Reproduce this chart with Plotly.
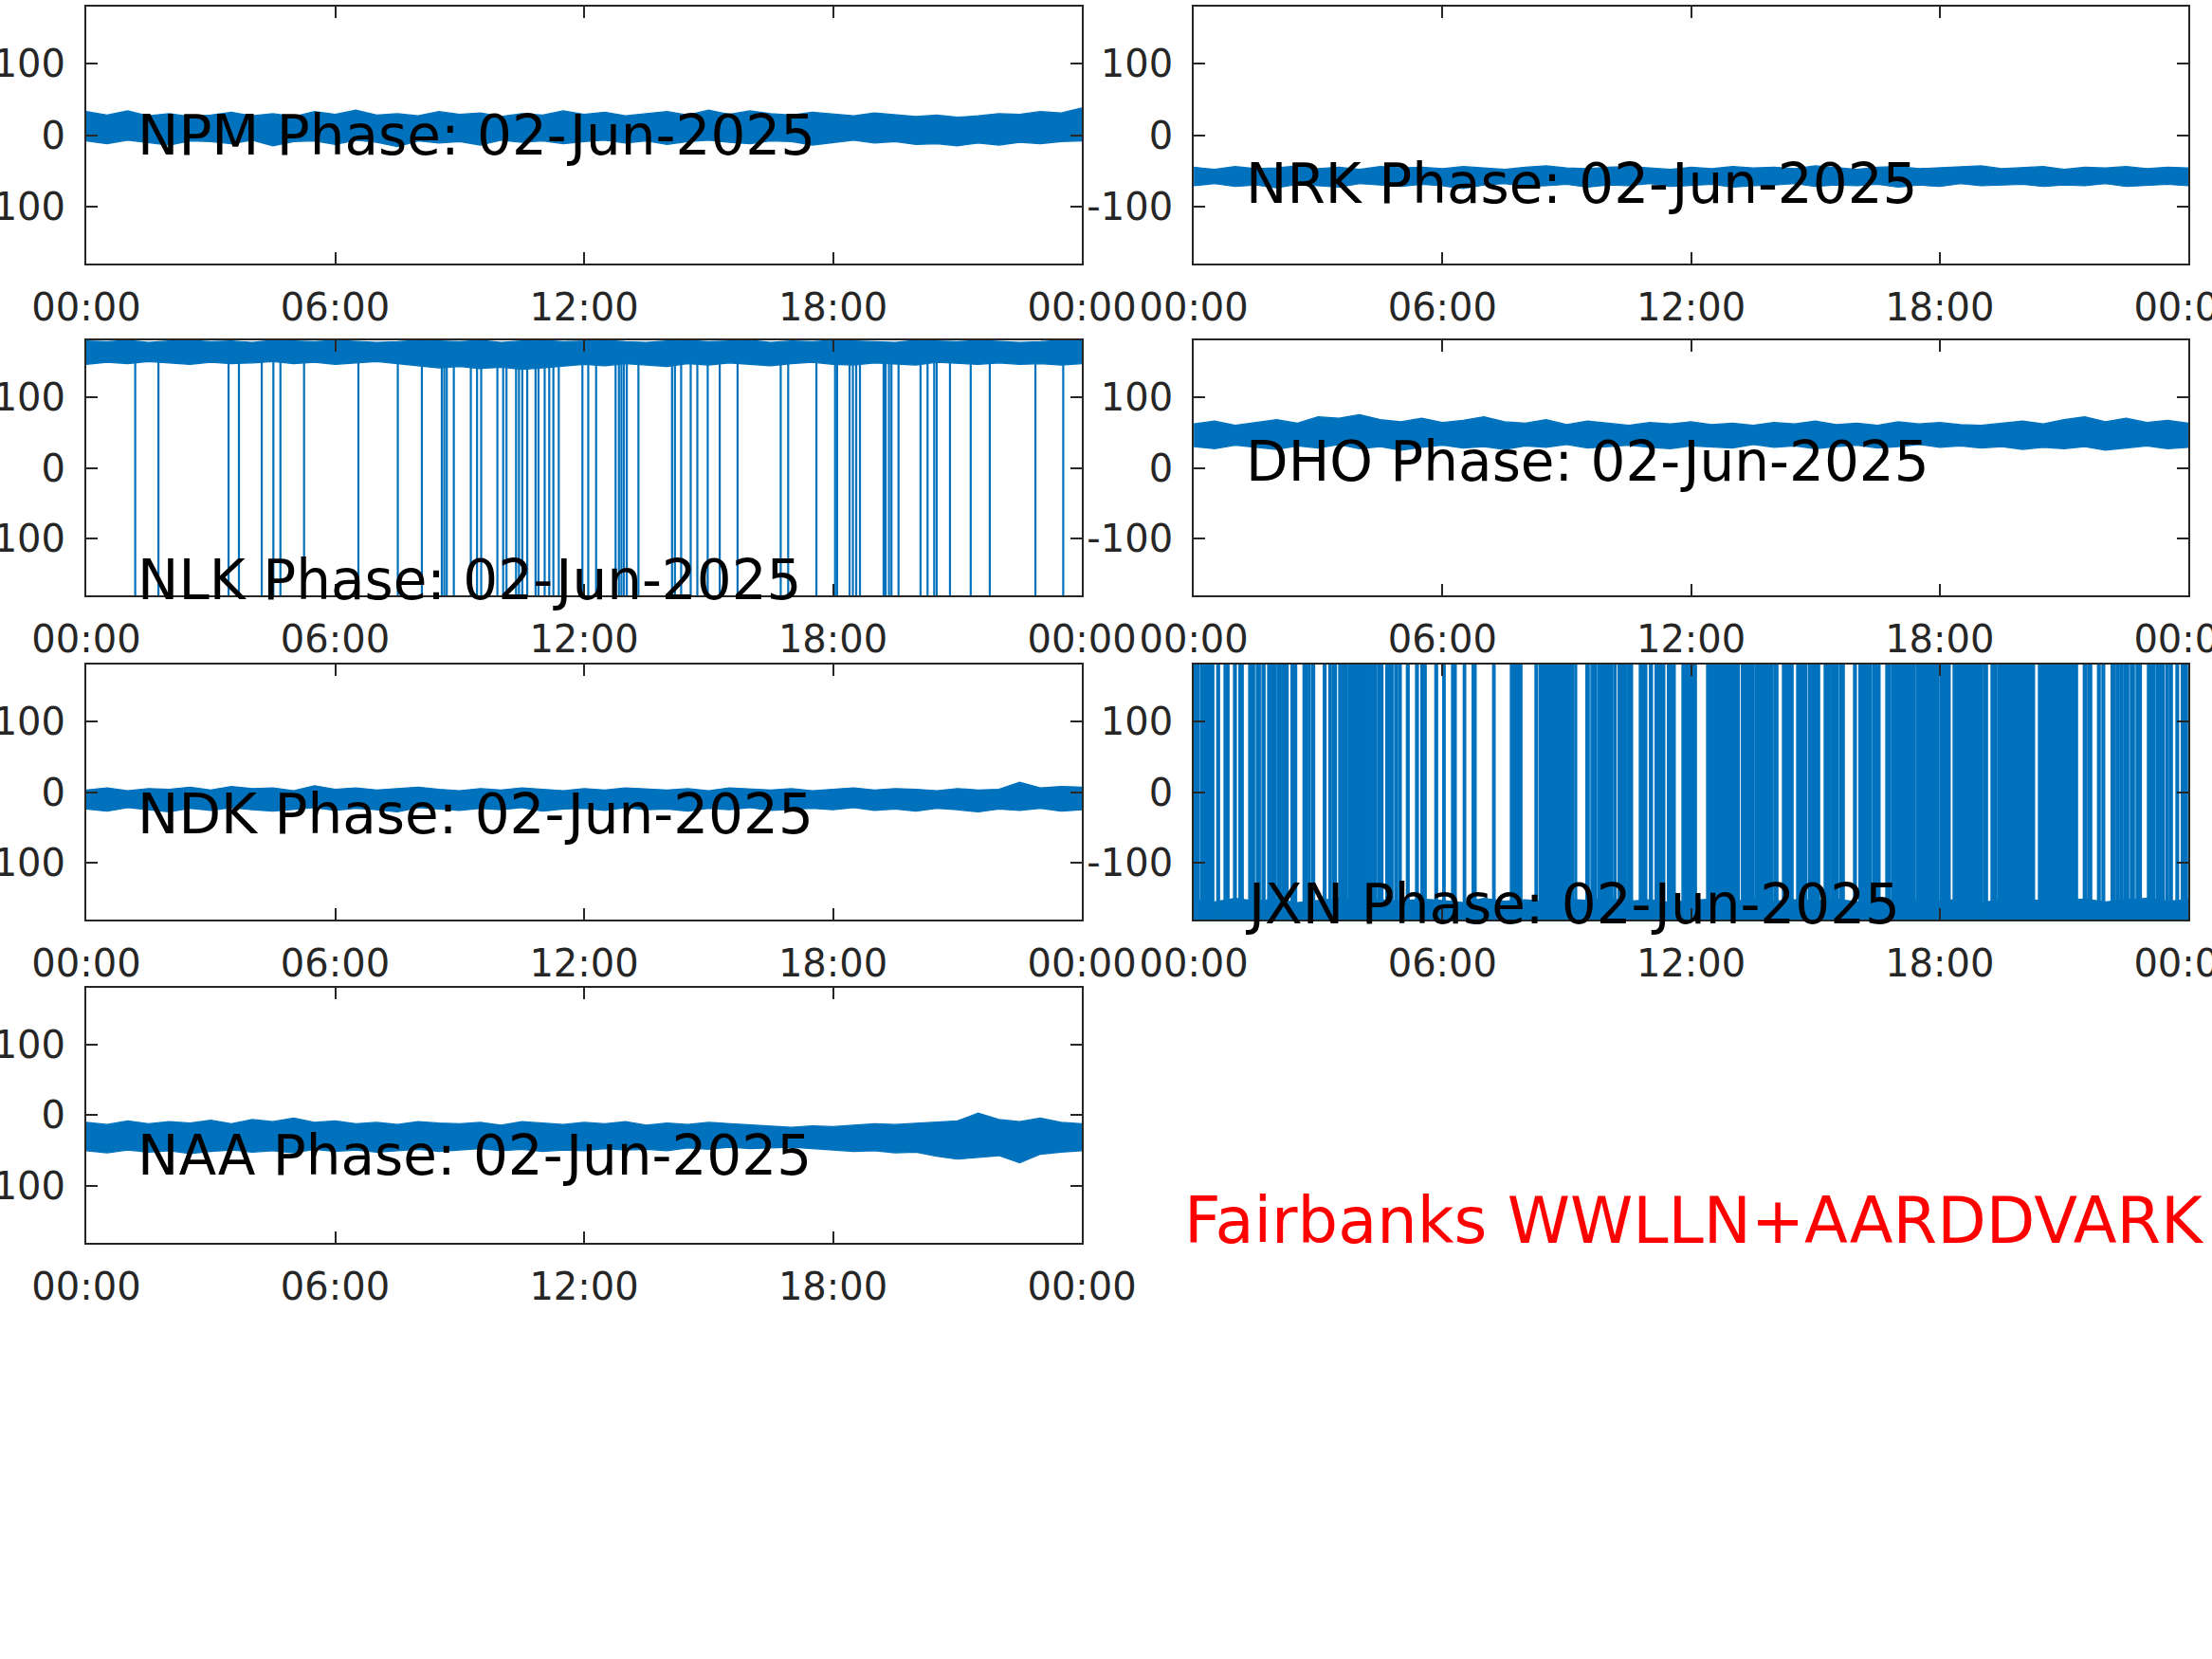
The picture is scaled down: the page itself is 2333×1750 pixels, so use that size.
import plotly.graph_objects as go

BLUE = "#0072BD"
AX = "#262626"

# Time grid (hours) for the band envelopes (every half hour)
hours = [i * 0.5 for i in range(49)]

npm_hi = [33,28,34,27,30,26,28,32,27,30,26,33,29,35,28,30,27,33,29,31,26,30,28,34,29,32,27,30,33,28,35,29,34,30,28,32,30,27,31,29,26,28,25,27,30,29,33,31,38]
npm_lo = [-8,-12,-7,-10,-14,-8,-9,-12,-7,-15,-9,-8,-13,-7,-10,-16,-8,-11,-9,-14,-7,-10,-8,-12,-9,-7,-11,-8,-13,-9,-7,-10,-12,-8,-9,-14,-10,-7,-11,-9,-13,-12,-15,-11,-14,-10,-12,-9,-8]

nrk_hi = [-45,-48,-44,-47,-46,-43,-47,-45,-48,-44,-46,-45,-47,-44,-46,-48,-45,-43,-46,-47,-45,-44,-46,-48,-45,-47,-44,-46,-45,-47,-43,-46,-48,-45,-44,-47,-46,-45,-43,-47,-46,-44,-48,-45,-46,-44,-47,-45,-46]
nrk_lo = [-71,-68,-72,-70,-74,-69,-71,-73,-68,-70,-72,-69,-71,-75,-70,-68,-72,-71,-69,-73,-70,-71,-68,-72,-70,-69,-73,-71,-70,-68,-72,-70,-71,-69,-73,-70,-72,-68,-71,-70,-69,-72,-70,-71,-68,-72,-70,-69,-71]

nlk_hi = [179,178,180,177,179,180,178,179,177,180,179,178,180,179,177,178,180,179,178,180,177,179,180,178,179,180,178,177,179,180,178,179,180,177,179,178,180,179,178,177,180,179,178,180,179,177,178,180,179]
nlk_lo = [146,149,147,150,148,146,149,147,148,150,147,149,146,148,150,147,
          144,141,143,140,142,139,141,143,
          146,144,147,145,143,147,145,148,146,144,147,149,146,145,148,147,145,149,147,146,148,146,147,145,147]
# NLK phase-wrap times (hours)
nlk_wraps = [1.18,1.74,3.43,3.68,4.23,4.51,4.68,5.25,6.56,7.51,8.09,8.57,8.63,8.69,8.86,9.27,9.42,9.52,
             9.91,10.05,10.13,10.36,10.43,10.51,10.63,10.83,10.90,11.05,11.16,11.26,11.39,
             11.96,12.10,12.29,12.76,12.84,12.90,12.96,13.03,13.31,14.12,14.19,14.34,14.57,14.73,14.98,
             15.27,15.70,16.74,16.92,17.60,18.05,18.10,18.40,18.48,18.56,18.65,19.22,19.27,19.35,19.41,
             19.58,20.11,20.28,20.44,20.50,20.82,21.32,21.78,22.88,23.55]

dho_hi = [62,66,60,64,68,63,72,70,75,68,65,70,64,67,72,65,63,68,61,66,63,60,64,62,65,61,63,60,64,62,66,61,63,60,65,62,64,61,60,63,66,62,68,72,65,70,64,67,63]
dho_lo = [30,27,32,29,26,31,28,33,27,30,25,29,32,28,30,26,31,29,33,28,30,32,29,27,31,30,28,33,29,31,27,30,32,28,30,33,29,31,28,30,26,29,27,30,25,28,31,27,29]

ndk_hi = [3,6,2,5,4,7,3,8,5,6,2,9,4,6,3,5,7,4,2,5,3,6,4,2,5,3,6,4,3,5,2,6,4,3,5,2,4,6,3,5,4,2,5,3,4,14,6,8,7]
ndk_lo = [-24,-27,-22,-25,-28,-23,-26,-22,-25,-27,-24,-22,-26,-23,-25,-28,-22,-24,-26,-23,-25,-22,-27,-24,-23,-26,-22,-25,-24,-27,-23,-25,-22,-26,-24,-23,-25,-22,-26,-24,-27,-23,-25,-28,-24,-26,-23,-27,-25]

jxn_hi = [-152,-155,-150,-154,-151,-156,-153,-150,-155,-152,-154,-151,-153,-156,-150,-154,-152,-155,-151,-153,-150,-154,-152,-156,-153,-151,-155,-150,-154,-152,-153,-151,-155,-150,-153,-152,-154,-151,-156,-152,-150,-154,-153,-151,-155,-152,-150,-154,-152]
jxn_lo = [-180] * 49
# JXN intervals (hours) filled by dense phase wraps
jxn_wrap_start = [0.0,0.160,0.557,0.732,0.961,1.091,1.327,1.510,1.647,1.785,2.013,2.128,2.349,2.639,2.768,2.845,
                  3.127,3.264,3.356,3.500,3.737,3.867,4.080,4.225,4.439,4.637,4.713,4.850,4.942,5.133,5.354,
                  5.483,5.819,6.010,6.223,6.505,6.719,7.214,7.642,8.236,8.343,8.778,9.213,9.464,9.586,9.746,
                  9.853,10.029,10.151,10.242,10.456,10.753,10.883,10.997,11.134,11.432,11.783,
                  12.378,13.217,13.560,14.017,14.208,14.551,14.841,15.215,15.375,15.466,15.581,15.924,16.053,
                  16.160,16.305,16.381,16.702,16.854,17.449,17.754,18.021,18.326,19.066,19.241,19.401,19.943,
                  20.126,20.385,21.010,21.110,21.468,21.575,21.811,21.918,22.139,22.269,22.360,22.452,22.604,
                  22.742,23.016,23.222,23.458,23.550,23.703,23.832,23.924]
jxn_wrap_end = [0.122,0.480,0.618,0.847,1.022,1.190,1.464,1.602,1.716,1.983,2.105,2.273,2.479,2.745,2.807,2.913,
                3.188,3.317,3.439,3.706,3.859,4.065,4.194,4.408,4.561,4.698,4.805,4.911,5.003,5.194,5.415,
                5.605,5.880,6.063,6.330,6.559,6.810,7.268,7.916,8.297,8.755,9.174,9.236,9.540,9.708,9.823,
                10.013,10.112,10.189,10.433,10.585,10.852,10.929,11.066,11.363,11.615,12.126,
                13.163,13.522,13.979,14.093,14.460,14.795,15.100,15.352,15.451,15.543,15.695,15.985,16.137,
                16.290,16.343,16.557,16.816,17.411,17.868,17.983,18.250,19.035,19.150,19.371,19.912,20.095,
                20.286,20.995,21.094,21.323,21.544,21.666,21.872,21.979,22.238,22.330,22.421,22.559,22.696,
                22.864,23.184,23.413,23.519,23.611,23.763,23.893,23.977]

naa_hi = [-10,-13,-8,-12,-9,-11,-7,-12,-6,-9,-4,-10,-8,-12,-10,-13,-9,-11,-12,-10,-14,-9,-11,-13,-10,-12,-9,-14,-11,-13,-10,-12,-14,-15,-17,-15,-16,-14,-12,-13,-11,-9,-8,3,-6,-9,-4,-10,-12]
naa_lo = [-50,-53,-49,-52,-50,-54,-51,-49,-52,-50,-53,-48,-51,-49,-52,-50,-48,-51,-49,-47,-50,-48,-51,-49,-50,-47,-49,-48,-50,-46,-48,-45,-47,-46,-45,-47,-49,-51,-50,-53,-52,-58,-62,-60,-57,-67,-55,-52,-50]

stations = ["NPM", "NRK", "NLK", "DHO", "NDK", "JXN", "NAA"]
label_y = [0, -68, -159, 9, -32, -159, -57]
label_x = 1.2
date_str = "02-Jun-2025"

x_tickvals = [0, 6, 12, 18, 24]
x_ticktext = ["00:00", "06:00", "12:00", "18:00", "00:00"]
y_tickvals = [-100, 0, 100]

bands = {
    "NPM": (npm_lo, npm_hi), "NRK": (nrk_lo, nrk_hi), "NLK": (nlk_lo, nlk_hi),
    "DHO": (dho_lo, dho_hi), "NDK": (ndk_lo, ndk_hi), "JXN": (jxn_lo, jxn_hi),
    "NAA": (naa_lo, naa_hi),
}

W, H = 2333, 1750
col_x = [(0.0390, 0.4891), (0.5397, 0.9893)]
row_y = [(0.8411, 0.9960), (0.6411, 0.7949), (0.4457, 0.5994), (0.2509, 0.4046)]

fig = go.Figure()
layout = dict(width=W, height=H, margin=dict(l=0, r=0, t=0, b=0, autoexpand=False),
              paper_bgcolor="white", plot_bgcolor="white", showlegend=False,
              font=dict(family="DejaVu Sans", color=AX))
annotations = []

for i, st in enumerate(stations):
    n = i + 1
    r, c = divmod(i, 2)
    xa = "x" if n == 1 else f"x{n}"
    ya = "y" if n == 1 else f"y{n}"
    lo, hi = bands[st]
    fig.add_trace(go.Scatter(x=hours, y=lo, mode="lines", line=dict(color=BLUE, width=1.2),
                             xaxis=xa, yaxis=ya, hoverinfo="skip"))
    fig.add_trace(go.Scatter(x=hours, y=hi, mode="lines", line=dict(color=BLUE, width=1.2),
                             fill="tonexty", fillcolor=BLUE, xaxis=xa, yaxis=ya, hoverinfo="skip"))
    if st == "NLK":
        xs, ys = [], []
        for t in nlk_wraps:
            xs += [t, t, None]
            ys += [150, -180, None]
        fig.add_trace(go.Scatter(x=xs, y=ys, mode="lines", line=dict(color=BLUE, width=2.2),
                                 xaxis=xa, yaxis=ya, hoverinfo="skip"))
    if st == "JXN":
        xs, ys = [], []
        for a, b in zip(jxn_wrap_start, jxn_wrap_end):
            xs += [a, b, b, a, a, None]
            ys += [-180, -180, 180, 180, -180, None]
        fig.add_trace(go.Scatter(x=xs, y=ys, mode="lines", fill="toself", fillcolor=BLUE,
                                 line=dict(color=BLUE, width=1.5),
                                 xaxis=xa, yaxis=ya, hoverinfo="skip"))
    axis_common = dict(showline=True, linecolor=AX, linewidth=2, mirror="ticks",
                       ticks="inside", ticklen=12, tickwidth=2, tickcolor=AX,
                       showgrid=False, zeroline=False, automargin=False,
                       ticklabeloverflow="allow",
                       tickfont=dict(family="DejaVu Sans", size=40, color=AX))
    layout["xaxis" if n == 1 else f"xaxis{n}"] = dict(
        axis_common, domain=list(col_x[c]), range=[0, 24], anchor=ya,
        tickvals=x_tickvals, ticktext=x_ticktext, ticklabelstandoff=10)
    layout["yaxis" if n == 1 else f"yaxis{n}"] = dict(
        axis_common, domain=list(row_y[r]), range=[-180, 180], anchor=xa,
        tickvals=y_tickvals, ticktext=[str(v) for v in y_tickvals], ticklabelstandoff=12)
    annotations.append(dict(x=label_x, y=label_y[i], xref=xa, yref=ya,
                            text=f"{st} Phase: {date_str}", showarrow=False,
                            xanchor="left", yanchor="middle",
                            font=dict(family="DejaVu Sans", size=58, color="black")))

annotations.append(dict(x=1247 / W, y=1 - 1288 / H, xref="paper", yref="paper",
                        text="Fairbanks WWLLN+AARDDVARK", showarrow=False,
                        xanchor="left", yanchor="middle",
                        font=dict(family="DejaVu Sans", size=67, color="#FF0000")))
layout["annotations"] = annotations
fig.update_layout(**layout)

fig.write_html("out.html", config={"displayModeBar": False},
               post_script="document.body.style.margin='0';document.body.style.overflow='hidden';")
